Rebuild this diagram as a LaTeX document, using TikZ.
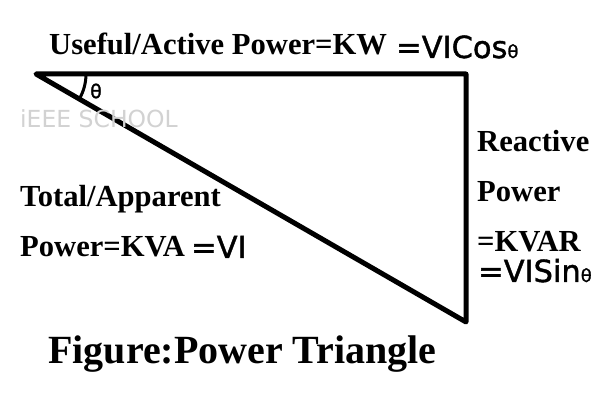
\documentclass[tikz,border=0pt]{standalone}
\usepackage{fontspec}
\setmainfont{Liberation Serif}
\newfontfamily\sansf[UprightFeatures={FakeBold=1.3}]{DejaVu Sans}
\newfontfamily\wmfont{DejaVu Sans}
\begin{document}
\begin{tikzpicture}[x=1pt,y=-1pt,
  lbl/.style={anchor=base west,inner sep=0pt,font=\fontsize{30.6}{30}\selectfont\bfseries},
  slbl/.style={anchor=base west,inner sep=0pt,font=\sansf\fontsize{30.5}{30}\selectfont},
  side/.style={line width=5pt,line join=round,line cap=round}]
\useasboundingbox[fill=white] (0,0) rectangle (598,401);
\coordinate (A) at (36,74);
\coordinate (B) at (466,74);
\coordinate (C) at (466,322);
\draw[side] (A) -- (B) -- (C) -- cycle;
\draw[line width=3pt] ([shift={(0:50)}]A) arc[start angle=0,end angle=29.9,radius=50];
\node[anchor=center,inner sep=0pt,font=\sansf\fontsize{19}{19}\selectfont] (th) at (96,91) {θ};
\node[anchor=base west,inner sep=0pt,text=gray!35,font=\wmfont\fontsize{23.5}{24}\selectfont] (wm) at (20,128) {iEEE SCHOOL};
\node[lbl] (act) at (49,55) {Useful/Active Power=KW};
\node[slbl] (acts) at (396,58) {=VICos{\fontsize{18}{18}\selectfont θ}};
\node[lbl] (tot1) at (20,207) {Total/Apparent};
\node[lbl] (tot2) at (20,257) {Power=KVA};
\node[slbl] (tots) at (191,258) {=VI};
\node[lbl] (r1) at (477,152) {Reactive};
\node[lbl] (r2) at (477,202) {Power};
\node[lbl] (r3) at (477,252) {=KVAR};
\node[slbl] (rs) at (478,282) {=VISin{\fontsize{18}{18}\selectfont θ}};
\node[anchor=base west,inner sep=0pt,font=\fontsize{40}{40}\selectfont\bfseries] (fig) at (48,363) {Figure:Power Triangle};
\end{tikzpicture}
\end{document}
